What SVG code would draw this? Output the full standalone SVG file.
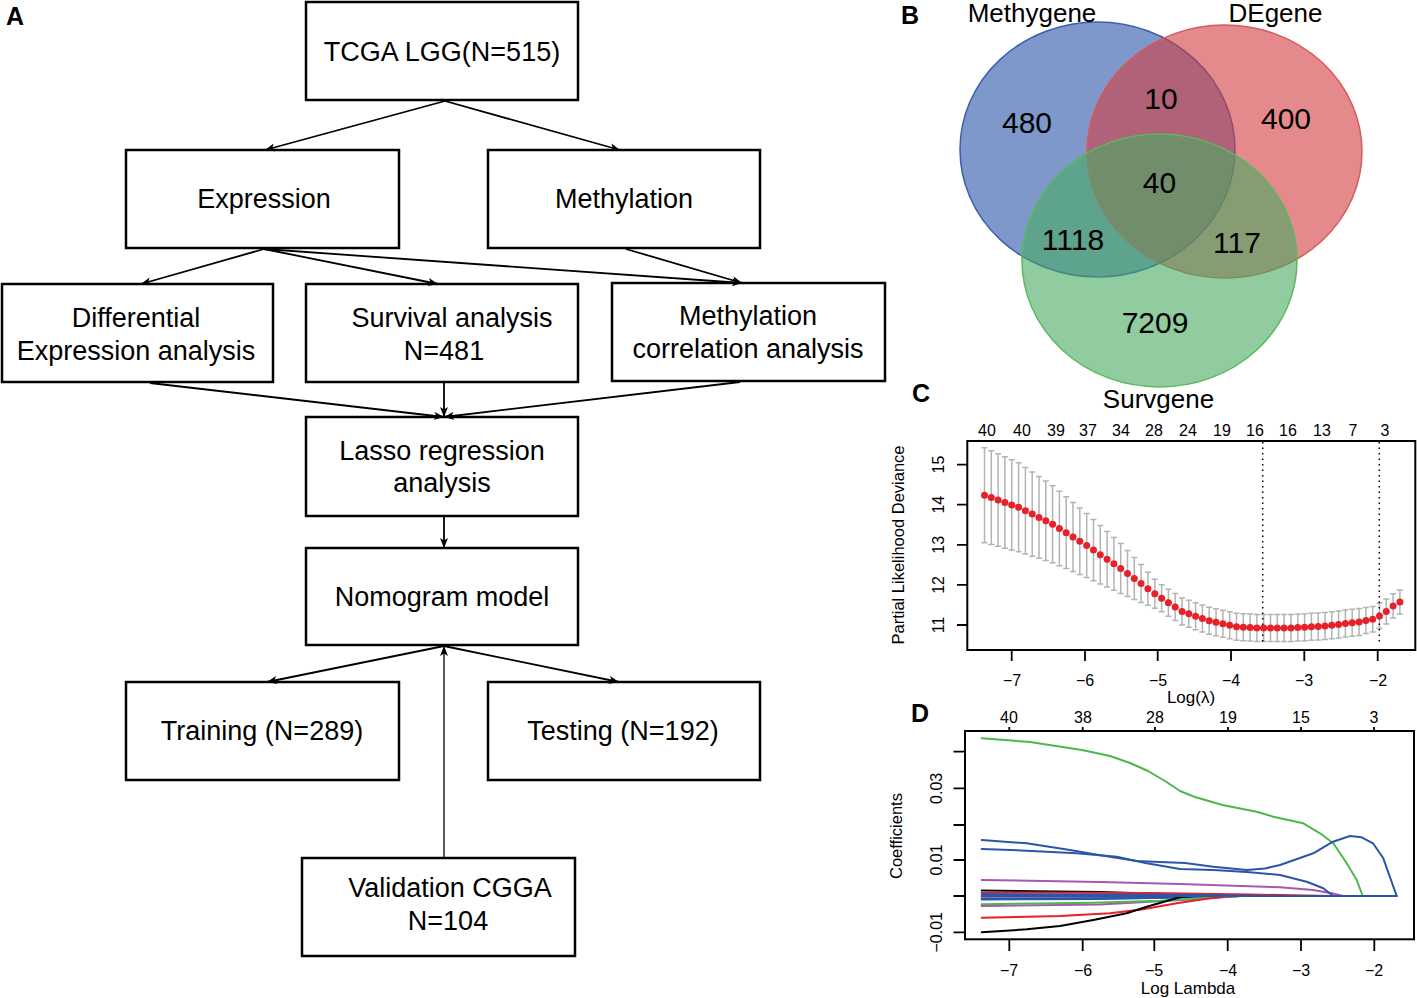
<svg xmlns="http://www.w3.org/2000/svg" width="1417" height="998" viewBox="0 0 1417 998">
<style>
text{font-family:"Liberation Sans",Arial,sans-serif;fill:#000}
.box{fill:#fff;stroke:#000;stroke-width:2.5}
.ft{font-size:27px;text-anchor:middle}
.pl{font-size:25px;font-weight:bold}
.vn{font-size:26px;text-anchor:middle}
.vc{font-size:30px;text-anchor:middle}
.ax{font-size:16px;text-anchor:middle}
.con{fill:none;stroke:#000;stroke-width:1.8;marker-end:url(#ah)}
.tk{fill:none;stroke:#000;stroke-width:1.8}
.cv{fill:none;stroke-width:2;stroke-linejoin:round;stroke-linecap:round}
</style>
<defs>
<marker id="ah" viewBox="0 0 10 8" refX="10" refY="4" markerWidth="10" markerHeight="8" markerUnits="userSpaceOnUse" orient="auto"><path d="M0,0 L10,4 L0,8 L2.5,4 z" fill="#000"/></marker>
</defs>
<rect width="1417" height="998" fill="#fff"/>

<!-- Panel A: flowchart -->
<text class="pl" x="6" y="25">A</text>
<g id="n-tcga"><rect class="box" x="306" y="2" width="272" height="98"/><text class="ft" x="442" y="61">TCGA LGG(N=515)</text></g>
<g id="n-expr"><rect class="box" x="126" y="150" width="273" height="98"/><text class="ft" x="264" y="208">Expression</text></g>
<g id="n-meth"><rect class="box" x="488" y="150" width="272" height="98"/><text class="ft" x="624" y="208">Methylation</text></g>
<g id="n-diff"><rect class="box" x="2" y="284" width="271" height="98"/><text class="ft" x="136" y="326.5">Differential</text><text class="ft" x="136" y="359.5">Expression analysis</text></g>
<g id="n-surv"><rect class="box" x="306" y="284" width="272" height="98"/><text class="ft" x="452" y="326.5">Survival analysis</text><text class="ft" x="444" y="359.5">N=481</text></g>
<g id="n-mcorr"><rect class="box" x="612" y="283" width="273" height="98"/><text class="ft" x="748" y="325">Methylation</text><text class="ft" x="748" y="357.5">correlation analysis</text></g>
<g id="n-lasso"><rect class="box" x="306" y="417" width="272" height="99"/><text class="ft" x="442" y="459.5">Lasso regression</text><text class="ft" x="442" y="492">analysis</text></g>
<g id="n-nomo"><rect class="box" x="306" y="548" width="272" height="97"/><text class="ft" x="442" y="606">Nomogram model</text></g>
<g id="n-train"><rect class="box" x="126" y="682" width="273" height="98"/><text class="ft" x="262" y="740">Training (N=289)</text></g>
<g id="n-test"><rect class="box" x="488" y="682" width="272" height="98"/><text class="ft" x="623" y="740">Testing (N=192)</text></g>
<g id="n-valid"><rect class="box" x="302" y="858" width="273" height="98"/><text class="ft" x="450" y="897">Validation CGGA</text><text class="ft" x="448" y="930">N=104</text></g>

<g id="connectors">
<path class="con" d="M445,101 L265,150"/>
<path class="con" d="M445,101 L620,150"/>
<path class="con" d="M264,249 L141,284"/>
<path class="con" d="M264,249 L438,284"/>
<path class="con" d="M264,249 L742,283"/>
<path class="con" d="M626,249 L742,283"/>
<path class="con" d="M150,383 L444,417"/>
<path class="con" d="M444,383 L444,417"/>
<path class="con" d="M740,382 L444,417"/>
<path class="con" d="M444,517 L444,548"/>
<path class="con" d="M444,646 L267,682"/>
<path class="con" d="M444,646 L619,682"/>
<path class="con" style="stroke-width:1.3" d="M444,857 L444,646"/>
</g>

<!-- Panel B: Venn -->
<text class="pl" x="901" y="24">B</text>
<g id="venn">
<ellipse cx="1097.5" cy="149.5" rx="137.5" ry="127.5" fill="#2a53aa" fill-opacity="0.6" stroke="#3a5fb0" stroke-width="1.5"/>
<ellipse cx="1224.5" cy="151.5" rx="137.5" ry="126.5" fill="#d23c3f" fill-opacity="0.6" stroke="#d85a5a" stroke-width="1.5"/>
<ellipse cx="1159.5" cy="260.5" rx="137.5" ry="126.5" fill="#48aa62" fill-opacity="0.6" stroke="#5cb85c" stroke-width="1.5"/>
<text class="vn" x="1032" y="22">Methygene</text>
<text class="vn" x="1275.5" y="22">DEgene</text>
<text class="vn" x="1158.5" y="408">Survgene</text>
<text class="vc" x="1027" y="132.5">480</text>
<text class="vc" x="1161" y="108.5">10</text>
<text class="vc" x="1286" y="129">400</text>
<text class="vc" x="1159.5" y="192.5">40</text>
<text class="vc" x="1073" y="250">1118</text>
<text class="vc" x="1237" y="252.5">117</text>
<text class="vc" x="1155" y="332.5">7209</text>
</g>

<!-- Panel C -->
<text class="pl" x="912" y="402">C</text>
<g id="plotC">
<g class="ax">
<text x="987" y="436">40</text><text x="1022" y="436">40</text><text x="1056" y="436">39</text><text x="1088" y="436">37</text><text x="1121" y="436">34</text><text x="1154" y="436">28</text><text x="1188" y="436">24</text><text x="1222" y="436">19</text><text x="1255" y="436">16</text><text x="1288" y="436">16</text><text x="1322" y="436">13</text><text x="1353" y="436">7</text><text x="1385" y="436">3</text>
</g>
<path fill="none" stroke="#b3b3b3" stroke-width="1.5" d="M984.5 447.7V542.7M981.5 447.7h6M981.5 542.7h6M991.3 450.7V544.5M988.3 450.7h6M988.3 544.5h6M998.1 453.7V546.3M995.1 453.7h6M995.1 546.3h6M1004.9 456.8V548.2M1001.9 456.8h6M1001.9 548.2h6M1011.7 459.8V550M1008.7 459.8h6M1008.7 550h6M1018.6 462.8V551.8M1015.6 462.8h6M1015.6 551.8h6M1025.4 467.4V554M1022.4 467.4h6M1022.4 554h6M1032.2 472V556.2M1029.2 472h6M1029.2 556.2h6M1039 476.5V558.3M1036 476.5h6M1036 558.3h6M1045.8 481.1V560.5M1042.8 481.1h6M1042.8 560.5h6M1052.6 485.7V562.7M1049.6 485.7h6M1049.6 562.7h6M1059.4 491.3V565.7M1056.4 491.3h6M1056.4 565.7h6M1066.2 496.8V568.6M1063.2 496.8h6M1063.2 568.6h6M1073 502.4V571.6M1070 502.4h6M1070 571.6h6M1079.8 507.9V574.5M1076.8 507.9h6M1076.8 574.5h6M1086.7 513.5V577.5M1083.7 513.5h6M1083.7 577.5h6M1093.5 519.5V580.7M1090.5 519.5h6M1090.5 580.7h6M1100.3 525.5V583.9M1097.3 525.5h6M1097.3 583.9h6M1107.1 531.4V587M1104.1 531.4h6M1104.1 587h6M1113.9 537.4V590.2M1110.9 537.4h6M1110.9 590.2h6M1120.7 543.4V593.4M1117.7 543.4h6M1117.7 593.4h6M1127.5 550.5V596.5M1124.5 550.5h6M1124.5 596.5h6M1134.3 557.5V599.5M1131.3 557.5h6M1131.3 599.5h6M1141.1 564.6V602.6M1138.1 564.6h6M1138.1 602.6h6M1147.9 572.2V605.2M1144.9 572.2h6M1144.9 605.2h6M1154.8 579.3V608.3M1151.8 579.3h6M1151.8 608.3h6M1161.6 584.7V611.7M1158.6 584.7h6M1158.6 611.7h6M1168.4 589.2V616.2M1165.4 589.2h6M1165.4 616.2h6M1175.2 593.6V620.6M1172.2 593.6h6M1172.2 620.6h6M1182 598V625M1179 598h6M1179 625h6M1188.8 600.3V627.3M1185.8 600.3h6M1185.8 627.3h6M1195.6 602.7V629.7M1192.6 602.7h6M1192.6 629.7h6M1202.4 605V632M1199.4 605h6M1199.4 632h6M1209.2 607.3V634.3M1206.2 607.3h6M1206.2 634.3h6M1216 608.8V635.8M1213 608.8h6M1213 635.8h6M1222.9 610.3V637.3M1219.9 610.3h6M1219.9 637.3h6M1229.7 611.8V638.8M1226.7 611.8h6M1226.7 638.8h6M1236.5 613.3V640.3M1233.5 613.3h6M1233.5 640.3h6M1243.3 613.7V640.7M1240.3 613.7h6M1240.3 640.7h6M1250.1 614.1V641.1M1247.1 614.1h6M1247.1 641.1h6M1256.9 614.5V641.5M1253.9 614.5h6M1253.9 641.5h6M1263.7 614.5V641.5M1260.7 614.5h6M1260.7 641.5h6M1270.5 614.5V641.5M1267.5 614.5h6M1267.5 641.5h6M1277.3 614.5V641.5M1274.3 614.5h6M1274.3 641.5h6M1284.1 614.5V641.5M1281.1 614.5h6M1281.1 641.5h6M1291 614.5V641.5M1288 614.5h6M1288 641.5h6M1297.8 614.1V641.1M1294.8 614.1h6M1294.8 641.1h6M1304.6 613.7V640.7M1301.6 613.7h6M1301.6 640.7h6M1311.4 613.3V640.3M1308.4 613.3h6M1308.4 640.3h6M1318.2 612.9V639.9M1315.2 612.9h6M1315.2 639.9h6M1325 612.5V639.5M1322 612.5h6M1322 639.5h6M1331.8 611.7V638.7M1328.8 611.7h6M1328.8 638.7h6M1338.6 610.9V637.9M1335.6 610.9h6M1335.6 637.9h6M1345.4 610.1V637.1M1342.4 610.1h6M1342.4 637.1h6M1352.2 609.3V636.3M1349.2 609.3h6M1349.2 636.3h6M1359.1 608.5V635.5M1356.1 608.5h6M1356.1 635.5h6M1365.9 607.6V633.6M1362.9 607.6h6M1362.9 633.6h6M1372.7 606.4V632M1369.7 606.4h6M1369.7 632h6M1379.5 603.3V628.5M1376.5 603.3h6M1376.5 628.5h6M1386.3 599.1V623.9M1383.3 599.1h6M1383.3 623.9h6M1393.1 593.7V618.1M1390.1 593.7h6M1390.1 618.1h6M1399.9 589.9V613.9M1396.9 589.9h6M1396.9 613.9h6"/>
<path fill="none" stroke="#000" stroke-width="1.5" stroke-dasharray="1.5 4" d="M1262.7 442V642M1379.3 442V642"/>
<path fill="none" stroke="#e8202a" stroke-width="7" stroke-linecap="round" d="M984.5 495.2h0M991.3 497.6h0M998.1 500h0M1004.9 502.5h0M1011.7 504.9h0M1018.6 507.3h0M1025.4 510.7h0M1032.2 514.1h0M1039 517.4h0M1045.8 520.8h0M1052.6 524.2h0M1059.4 528.5h0M1066.2 532.7h0M1073 537h0M1079.8 541.2h0M1086.7 545.5h0M1093.5 550.1h0M1100.3 554.7h0M1107.1 559.2h0M1113.9 563.8h0M1120.7 568.4h0M1127.5 573.5h0M1134.3 578.5h0M1141.1 583.6h0M1147.9 588.7h0M1154.8 593.8h0M1161.6 598.2h0M1168.4 602.7h0M1175.2 607.1h0M1182 611.5h0M1188.8 613.8h0M1195.6 616.2h0M1202.4 618.5h0M1209.2 620.8h0M1216 622.3h0M1222.9 623.8h0M1229.7 625.3h0M1236.5 626.8h0M1243.3 627.2h0M1250.1 627.6h0M1256.9 628h0M1263.7 628h0M1270.5 628h0M1277.3 628h0M1284.1 628h0M1291 628h0M1297.8 627.6h0M1304.6 627.2h0M1311.4 626.8h0M1318.2 626.4h0M1325 626h0M1331.8 625.2h0M1338.6 624.4h0M1345.4 623.6h0M1352.2 622.8h0M1359.1 622h0M1365.9 620.6h0M1372.7 619.2h0M1379.5 615.9h0M1386.3 611.5h0M1393.1 605.9h0M1399.9 601.9h0"/>
<rect x="967.3" y="441" width="448" height="209" fill="none" stroke="#000" stroke-width="2"/>
<path class="tk" d="M1011.7 650V661M1085 650V661M1157.7 650V661M1231 650V661M1304.3 650V661M1377.7 650V661M967 625H957M967 584.9H957M967 544.8H957M967 504.7H957M967 464.6H957"/>
<g class="ax">
<text x="1012" y="686">−7</text><text x="1085" y="686">−6</text><text x="1158" y="686">−5</text><text x="1231" y="686">−4</text><text x="1304" y="686">−3</text><text x="1378" y="686">−2</text>
<text x="1191" y="703" style="font-size:17px">Log(λ)</text>
<text transform="rotate(-90 944 625)" x="944" y="625">11</text>
<text transform="rotate(-90 944 584.9)" x="944" y="584.9">12</text>
<text transform="rotate(-90 944 544.8)" x="944" y="544.8">13</text>
<text transform="rotate(-90 944 504.7)" x="944" y="504.7">14</text>
<text transform="rotate(-90 944 464.6)" x="944" y="464.6">15</text>
<text transform="rotate(-90 904 545)" x="904" y="545" style="font-size:16.5px">Partial Likelihood Deviance</text>
</g>
</g>

<!-- Panel D -->
<text class="pl" x="911" y="722">D</text>
<g id="plotD">
<g class="ax">
<text x="1009" y="723">40</text><text x="1083" y="723">38</text><text x="1155" y="723">28</text><text x="1228" y="723">19</text><text x="1301" y="723">15</text><text x="1374" y="723">3</text>
</g>
<polyline class="cv" stroke="#4cb84c" points="981.7,738.3 1030,742 1082,750 1110,756 1130,763 1148,771 1165,781 1180,791 1195,797 1222.5,805 1256.7,811.7 1273.3,816.7 1303.3,823.3 1320,833.3 1333.3,843.3 1346.7,863.3 1356.7,880 1362.7,896"/>
<polyline class="cv" stroke="#a857b0" points="981.7,880 1100,882 1180,884 1280,887.3 1313,890 1333,893.5 1343,896"/>
<polyline class="cv" stroke="#a857b0" points="981.7,906 1100,904.5 1200,899 1240,896"/>
<polyline class="cv" stroke="#000" points="981.7,890.5 1100,892 1180,894.5 1220,896"/>
<polyline class="cv" stroke="#e8202a" points="981.7,892.5 1150,893 1250,894.5 1330,896"/>
<polyline class="cv" stroke="#e8202a" points="981.7,896.5 1150,896.5 1250,896"/>
<polyline class="cv" stroke="#2a56a8" points="981.7,894 1200,895 1280,896"/>
<polyline class="cv" stroke="#2a56a8" points="981.7,898.5 1150,898 1230,896"/>
<polyline class="cv" stroke="#2a56a8" points="981.7,899.5 1100,899 1200,897 1240,896"/>
<polyline class="cv" stroke="#4cb84c" points="981.7,904.3 1093.3,902.7 1160,900.7 1226.7,896.7 1240,896"/>
<polyline class="cv" stroke="#e8202a" points="981.7,917.7 1060,916 1110,913.3 1143.3,909.3 1176.7,903.3 1210,898.3 1226.7,896.5 1240,896"/>
<polyline class="cv" stroke="#000" points="981.7,932.3 1026.7,929.3 1060,926 1093.3,920 1126.7,913.3 1146.7,906.7 1166.7,901 1180,897.3 1193.3,896"/>
<polyline class="cv" stroke="#2a56a8" points="981.7,840 1026.7,843.3 1070,850 1093,854 1113,857.3 1136.7,861 1160,862 1185,863 1213.3,866.7 1246.7,870 1265,868.5 1280,865 1313.3,853.3 1333,841.7 1350,836 1361.7,837.3 1373,843.3 1383.3,858.3 1396.7,896"/>
<polyline class="cv" stroke="#2a56a8" points="981.7,849 1026.7,850.7 1076.7,853.3 1116.7,856.7 1146.7,863.3 1180,869 1213.3,870 1246.7,872 1280,875 1306.7,881.7 1323.3,888.3 1333.3,896"/>
<polyline class="cv" stroke="#2a56a8" points="981.7,896 1396.7,896"/>
<rect x="965" y="731" width="449" height="208.3" fill="none" stroke="#000" stroke-width="2"/>
<path class="tk" d="M1009.3 939V951M1082.7 939V951M1154.3 939V951M1227.7 939V951M1301 939V951M1374.3 939V951M1009.3 731V727M1082.7 731V727M1155 731V727M1228 731V727M1301 731V727M1374 731V727M965 751.7H953.5M965 788.3H953.5M965 825H953.5M965 860H953.5M965 896H953.5M965 932.3H953.5"/>
<g class="ax">
<text x="1009" y="976">−7</text><text x="1083" y="976">−6</text><text x="1154" y="976">−5</text><text x="1228" y="976">−4</text><text x="1301" y="976">−3</text><text x="1374" y="976">−2</text>
<text x="1188" y="994" style="font-size:17px">Log Lambda</text>
<text transform="rotate(-90 942 788.3)" x="942" y="788.3">0.03</text>
<text transform="rotate(-90 942 860)" x="942" y="860">0.01</text>
<text transform="rotate(-90 942 932.3)" x="942" y="932.3">−0.01</text>
<text transform="rotate(-90 902 836)" x="902" y="836" style="font-size:16.5px">Coefficients</text>
</g>
</g>
</svg>
